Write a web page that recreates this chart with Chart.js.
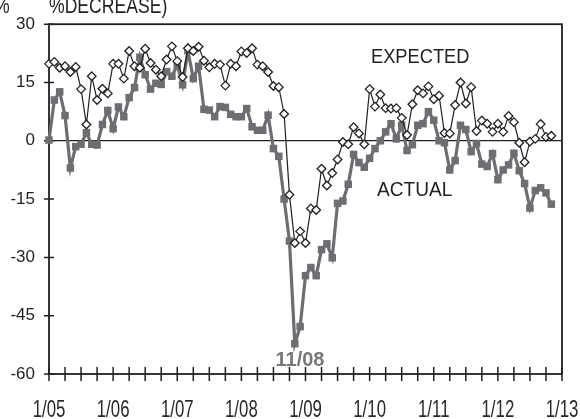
<!DOCTYPE html>
<html><head><meta charset="utf-8">
<script src="https://cdn.jsdelivr.net/npm/chart.js@4.4.0/dist/chart.umd.min.js"></script>
<style>html,body{margin:0;padding:0;background:#fff;}#wrap{width:580px;height:419px;position:relative;}</style>
</head><body><div id="wrap"><canvas id="c" width="580" height="419"></canvas></div>
<script>
// ---- data ----
const years = ['05','06','07','08','09','10','11','12'];
const categories = [];
years.forEach(y => { for (let m = 1; m <= 12; m++) categories.push(m + '/' + y); });
categories.push('1/13');

const expected = [
  19.8, 20.3, 18.8, 19.2, 17.7, 19.0, 13.3, 4.2, 16.6, 10.5, 13.4, 12.2,
  19.8, 19.8, 16.0, 23.1, 19.2, 18.8, 23.7, 20.0, 18.3, 16.6, 20.9, 24.3,
  20.5, 16.4, 23.8, 23.1, 24.2, 20.6, 18.9, 19.8, 19.6, 14.2, 19.8, 19.2,
  23.0, 22.6, 23.8, 19.6, 19.2, 17.7, 14.1, 13.8, 6.9, -13.9, -26.3, -23.3,
  -26.3, -17.4, -17.8, -7.2, -11.5, -8.3, -4.8, -0.3, -0.9, 3.5, 1.9, -0.9,
  13.3, 8.8, 11.9, 8.4, 8.3, 8.4, 5.9, 1.5, 9.4, 13.0, 12.2, 14.0,
  10.7, 11.6, 2.0, 1.9, 9.2, 15.0, 9.6, 13.8, 2.5, 5.2, 4.4, 2.3,
  4.4, 2.3, 6.4, 4.8, -0.5, -5.5, -0.2, 0.5, 4.3, 1.0, 1.3
];
const actual = [
  0.2, 10.5, 12.6, 6.5, -7.0, -1.5, -0.9, 2.1, -0.9, -1.1, 4.2, 7.8,
  3.1, 8.7, 6.2, 11.1, 13.7, 21.5, 17.0, 13.3, 14.8, 14.5, 17.8, 16.6,
  19.4, 14.4, 23.2, 16.0, 19.2, 8.1, 7.9, 6.2, 8.8, 8.6, 6.8, 6.2,
  6.2, 8.3, 3.6, 2.7, 2.7, 6.6, -2.0, -4.0, -15.0, -25.8, -52.2, -47.8,
  -34.7, -32.6, -34.7, -28.0, -26.5, -30.1, -16.1, -15.5, -11.2, -3.5, -5.6, -6.8,
  -4.5, -2.0, 0.0, 2.3, 4.4, 0.5, 4.0, -2.5, -1.0, 4.0, 4.4, 7.5,
  5.3, 0.0, -0.5, -7.5, -5.1, 4.0, 2.9, -2.8, -0.7, -6.0, -6.6, -3.3,
  -10.0, -7.5, -6.2, -3.2, -7.7, -11.0, -17.3, -12.8, -12.1, -13.4, -16.3
];
const xTickLabels = ['1/05','1/06','1/07','1/08','1/09','1/10','1/11','1/12','1/13'];
const yTickValues = [30, 15, 0, -15, -30, -45, -60];

const INK = '#231f20';
const GREY = '#6d6e71';
const FONT = '"Liberation Sans", Arial, Helvetica, sans-serif';

function drawText(ctx, text, x, y, size, weight, color, sx, align) {
  ctx.save();
  ctx.font = weight + ' ' + size + 'px ' + FONT;
  ctx.fillStyle = color;
  ctx.textBaseline = 'alphabetic';
  ctx.textAlign = align;
  ctx.translate(x, y);
  ctx.scale(sx, 1);
  ctx.fillText(text, 0, 0);
  ctx.restore();
}

const framePlugin = {
  id: 'frame',
  beforeDatasetsDraw(chart) {
    const { ctx, chartArea: a, scales: { x, y } } = chart;
    ctx.save();
    ctx.strokeStyle = INK;
    ctx.lineWidth = 1.8;
    ctx.strokeRect(a.left, a.top, a.right - a.left, a.bottom - a.top);
    ctx.lineWidth = 1.5;
    ctx.beginPath();
    yTickValues.forEach(v => {
      const py = y.getPixelForValue(v);
      ctx.moveTo(a.left - 5, py); ctx.lineTo(a.left + 5, py);
    });
    for (let i = 0; i < categories.length; i += 3) {
      const px = x.getPixelForValue(i);
      ctx.moveTo(px, a.bottom - 7); ctx.lineTo(px, a.bottom + 7);
    }
    ctx.stroke();
    ctx.restore();
  },
  afterDraw(chart) {
    const { ctx, scales: { x } } = chart;
    xTickLabels.forEach((lab, k) => {
      const px = x.getPixelForValue(k * 12);
      drawText(ctx, lab, px, 417, 24, 'normal', '#2b2829', 0.7, 'center');
    });
    drawText(ctx, 'EXPECTED', 371, 62.5, 21, 'normal', INK, 0.87, 'left');
    drawText(ctx, 'ACTUAL', 377, 196, 21, 'normal', INK, 0.91, 'left');
    drawText(ctx, '11/08', 300, 366, 20, 'bold', '#77787b', 1, 'center');
    drawText(ctx, '%', -6, 13, 22, 'normal', INK, 0.8, 'left');
    drawText(ctx, '%DECREASE)', 49, 13, 22, 'normal', INK, 0.8, 'left');
  }
};

new Chart(document.getElementById('c'), {
  type: 'line',
  data: {
    labels: categories,
    datasets: [
      {
        label: 'EXPECTED', data: expected, order: 0, clip: false,
        borderColor: INK, borderWidth: 1.2, tension: 0,
        pointStyle: 'rectRot', pointRadius: 4.3, pointBorderWidth: 1.3,
        pointBackgroundColor: '#ffffff', pointBorderColor: INK
      },
      {
        label: 'ACTUAL', data: actual, order: 1, clip: false,
        borderColor: GREY, borderWidth: 3.2, tension: 0,
        pointStyle: 'rect', pointRadius: 5.3, pointBorderWidth: 0,
        pointBackgroundColor: GREY, pointBorderColor: GREY
      }
    ]
  },
  options: {
    responsive: false, animation: false, events: [],
    devicePixelRatio: 1,
    layout: { padding: { top: 19, right: 18, left: 0, bottom: 0 } },
    plugins: { legend: { display: false }, tooltip: { enabled: false } },
    scales: {
      x: {
        type: 'category', offset: false,
        grid: { display: false, drawTicks: false },
        border: { display: false },
        ticks: { display: false },
        afterFit(s) { s.height = 45; }
      },
      y: {
        type: 'linear', min: -60, max: 30,
        afterBuildTicks(s) { s.ticks = yTickValues.map(v => ({ value: v })); },
        grid: {
          drawTicks: false,
          color: c => (c.tick && c.tick.value === 0) ? INK : 'rgba(0,0,0,0)',
          lineWidth: 1.3
        },
        border: { display: false },
        ticks: { color: INK, padding: 14, font: { family: FONT, size: 17 } },
        afterFit(s) { s.width = 49; }
      }
    }
  },
  plugins: [framePlugin]
});
</script></body></html>
